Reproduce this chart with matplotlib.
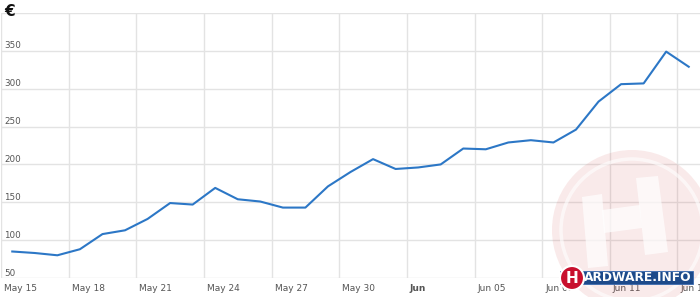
import matplotlib
matplotlib.use("Agg")
import matplotlib.pyplot as plt
import matplotlib.dates as mdates
import matplotlib.patches as mpatches
import pandas as pd

# ---- data ----
dates = pd.date_range("2013-05-15 12:00", periods=31, freq="D")
prices = [85, 83, 80, 88, 108, 113, 128, 149, 147, 169, 154, 151, 143, 143, 171,
          190, 207, 194, 196, 200, 221, 220, 229, 232, 229, 246, 283, 306, 307, 349, 329]
tick_dates = pd.date_range("2013-05-15", periods=11, freq="3D")
tick_labels = ["May 15", "May 18", "May 21", "May 24", "May 27", "May 30",
               "Jun", "Jun 05", "Jun 08", "Jun 11", "Jun 14"]
y_ticks = [50, 100, 150, 200, 250, 300, 350, 400]
y_labels = ["50", "100", "150", "200", "250", "300", "350", ""]

W, H = 700, 297
fig = plt.figure(figsize=(W / 100, H / 100), dpi=100)
ax = fig.add_axes([1 / W, 19 / H, 699 / W, 265 / H])

x0 = mdates.date2num(pd.Timestamp("2013-05-15"))
x1 = mdates.date2num(pd.Timestamp("2013-06-15"))
ax.set_xlim(x0, x1)
ax.set_ylim(50, 400)

ax.plot(mdates.date2num(dates), prices, color="#2c77c6", lw=1.5, zorder=3,
        solid_joinstyle="round")

ax.set_xticks(mdates.date2num(tick_dates))
ax.set_yticks(y_ticks)
ax.set_xticklabels([])
ax.set_yticklabels([])
ax.tick_params(length=0)
ax.grid(True, color="#e3e3e3", lw=1.0, zorder=0)
for s in ax.spines.values():
    s.set_visible(False)

lab_color = "#555555"
for v, lab in zip(y_ticks, y_labels):
    if lab:
        ax.annotate(lab, xy=(0, v), xycoords=ax.get_yaxis_transform(),
                    xytext=(3, 2.5), textcoords="offset pixels",
                    ha="left", va="baseline", fontsize=6.3, color=lab_color,
                    annotation_clip=False)

for d, lab in zip(tick_dates, tick_labels):
    ax.annotate(lab, xy=(mdates.date2num(d), 0), xycoords=ax.get_xaxis_transform(),
                xytext=(3, -6), textcoords="offset pixels",
                ha="left", va="top", fontsize=6.5, color=lab_color,
                fontweight="bold" if lab == "Jun" else "normal",
                annotation_clip=False)

fig.text(4 / W, 1 - 3.5 / H, "€", ha="left", va="top", fontsize=11,
         fontweight="bold", color="#111111")

# ---- watermark overlay (pixel coordinates) ----
ov = fig.add_axes([0, 0, 1, 1], zorder=5)
ov.set_xlim(0, W)
ov.set_ylim(H, 0)
ov.set_axis_off()

pink = "#d04040"
ov.add_patch(mpatches.Circle((632, 230), 80, facecolor=pink, alpha=0.11, lw=0))
ov.add_patch(mpatches.Circle((632, 230), 71, facecolor="none", edgecolor="white",
                             lw=2.5, alpha=0.6))
h_polys = [
    [(582, 197), (602, 194), (608, 266), (588, 268)],
    [(636, 178), (658, 176), (668, 252), (645, 255)],
    [(602, 210), (640, 205), (642, 228), (604, 233)],
]
for p in h_polys:
    ov.add_patch(mpatches.Polygon(p, closed=True, facecolor="white", alpha=0.7, lw=0))

# small logo
ov.add_patch(mpatches.Rectangle((560, 271), 133, 12.5, facecolor="#1d4a8a",
                                edgecolor="#3a6bb0", lw=0.6))
ov.add_patch(mpatches.Circle((572, 278), 12, facecolor="#c8102e", edgecolor="white", lw=1.5))
ov.text(572, 278.5, "H", ha="center", va="center", color="white", fontsize=11,
        fontweight="bold")
ov.text(584, 277.5, "ARDWARE.INFO", ha="left", va="center", color="white",
        fontsize=8.8, fontweight="bold")

fig.savefig("out.png", dpi=100, facecolor="white")
